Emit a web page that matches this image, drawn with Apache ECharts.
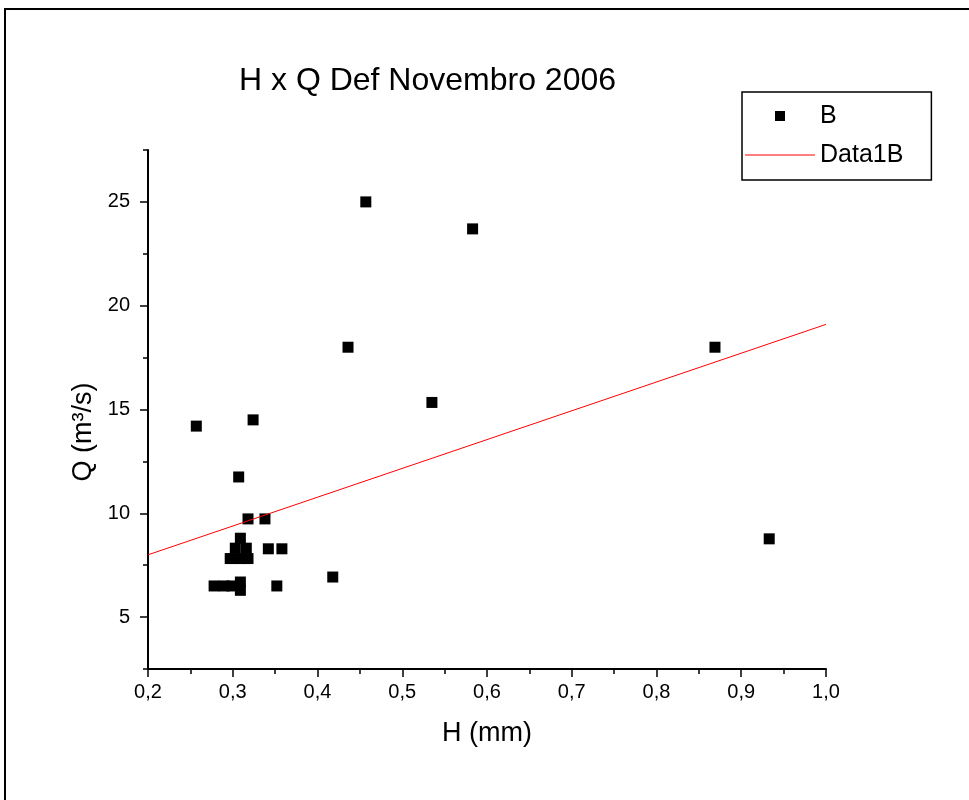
<!DOCTYPE html>
<html>
<head>
<meta charset="utf-8">
<script src="https://cdn.jsdelivr.net/npm/echarts@6/dist/echarts.min.js"></script>
<style>
html, body { margin: 0; padding: 0; background: #fff; }
#chart { width: 969px; height: 800px; }
</style>
</head>
<body>
<div id="chart"></div>
<script>
// H (mm) and Q (m3/s)
const hValues = [0.257, 0.324, 0.307, 0.318, 0.338, 0.309, 0.303, 0.316, 0.297, 0.308, 0.318, 0.342, 0.358, 0.418,
  0.278, 0.290, 0.299, 0.309, 0.309, 0.352, 0.457, 0.583, 0.436, 0.535, 0.869, 0.933]
const qValues = [14.2, 14.5, 11.75, 9.73, 9.73, 8.8, 8.32, 8.32, 7.82, 7.82, 7.82, 8.29, 8.29, 6.93,
  6.5, 6.5, 6.5, 6.69, 6.29, 6.5, 25.0, 23.7, 18.0, 15.34, 18.0, 8.77]

// linear fit (Data1B)
const fitH = [0.2, 1.0]
const fitQ = [8.0, 19.1]

const yMajorValues = [5, 10, 15, 20, 25]
const yMinorValues = [2.5, 7.5, 12.5, 17.5, 22.5, 27.5]

const font = "'Liberation Sans', Arial, sans-serif"
const black = '#000'

const chart = echarts.init(document.getElementById('chart'))

const yBase = {
  type: 'value',
  min: 2.5,
  max: 27.5,
  position: 'left',
  splitLine: { show: false }
}

chart.setOption({
  animation: false,
  backgroundColor: '#fff',
  title: {
    text: 'H x Q Def Novembro 2006',
    left: 239,
    top: 65,
    padding: 0,
    textStyle: { fontFamily: font, fontSize: 32, fontWeight: 'normal', color: black }
  },
  legend: {
    orient: 'vertical',
    left: 742,
    top: 92,
    padding: [10, 28, 11, 3],
    borderColor: black,
    borderWidth: 1.5,
    itemWidth: 70,
    itemHeight: 10,
    itemGap: 11,
    textStyle: { fontFamily: font, fontSize: 25, color: black, lineHeight: 28 },
    data: [
      { name: 'B', icon: 'path://M0,0h10v10h-10z' },
      { name: 'Data1B', icon: 'path://M0,0h70v1h-70z' }
    ]
  },
  grid: { left: 148, right: 143, top: 150, bottom: 131, containLabel: false },
  xAxis: {
    type: 'value',
    min: 0.2,
    max: 1.0,
    interval: 0.1,
    name: 'H (mm)',
    nameLocation: 'middle',
    nameGap: 51,
    nameTextStyle: { fontFamily: font, fontSize: 27, color: black },
    axisLine: { lineStyle: { color: black, width: 2 } },
    axisTick: { length: 8, lineStyle: { color: black, width: 1.5 } },
    minorTick: { show: true, splitNumber: 2, length: 5, lineStyle: { color: black, width: 1.5 } },
    axisLabel: {
      margin: 13,
      fontFamily: font,
      fontSize: 20,
      color: black,
      formatter: (v) => v.toFixed(1).replace('.', ',')
    },
    splitLine: { show: false }
  },
  yAxis: [
    {
      ...yBase,
      axisLine: { show: true, lineStyle: { color: black, width: 2 } },
      axisTick: { show: true, length: 8, customValues: yMajorValues, lineStyle: { color: black, width: 1.5 } },
      axisLabel: { margin: 18, fontFamily: font, fontSize: 20, color: black, customValues: yMajorValues }
    },
    {
      ...yBase,
      axisLine: { show: false },
      axisTick: { show: true, length: 5, customValues: yMinorValues, lineStyle: { color: black, width: 1.5 } },
      axisLabel: { show: false }
    }
  ],
  graphic: [
    {
      type: 'rect',
      shape: { x: 5, y: 9, width: 1200, height: 1200 },
      style: { fill: 'none', stroke: black, lineWidth: 2 },
      silent: true
    },
    {
      type: 'text',
      x: 84,
      y: 432,
      rotation: Math.PI / 2,
      style: {
        text: 'Q (m³/s)',
        font: '27px ' + font,
        fill: black,
        textAlign: 'center',
        textVerticalAlign: 'middle'
      }
    }
  ],
  series: [
    {
      name: 'B',
      type: 'scatter',
      symbol: 'rect',
      symbolSize: 11,
      itemStyle: { color: black, opacity: 1 },
      data: hValues.map((h, i) => [h, qValues[i]])
    },
    {
      name: 'Data1B',
      type: 'line',
      symbol: 'none',
      lineStyle: { color: '#ff0000', width: 1 },
      itemStyle: { color: '#ff0000' },
      data: fitH.map((h, i) => [h, fitQ[i]])
    }
  ]
})
</script>
</body>
</html>
